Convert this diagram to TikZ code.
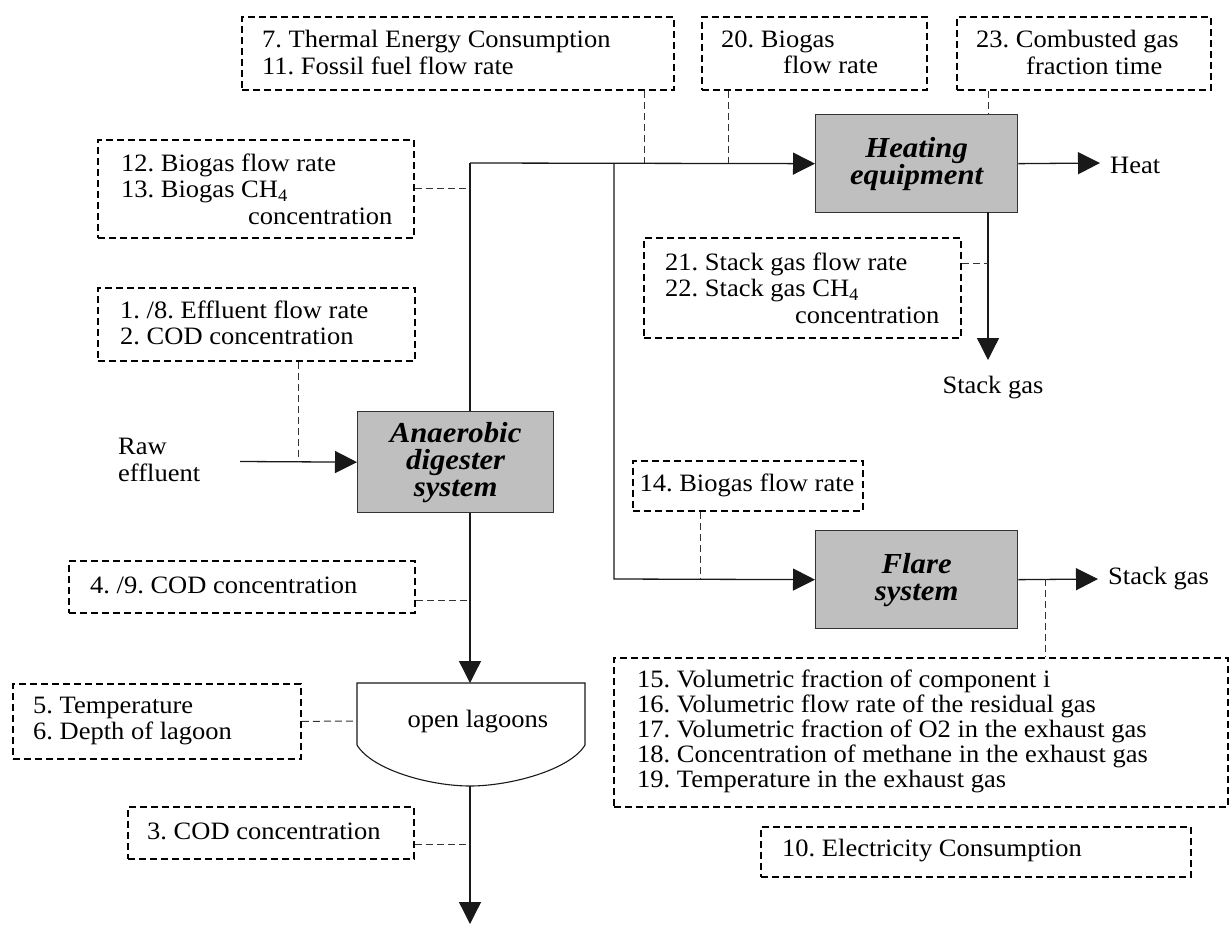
\documentclass[tikz,border=0pt]{standalone}
\usepackage{fontspec}
\setmainfont{Liberation Serif}[FakeStretch=1.06]
\usetikzlibrary{arrows.meta,calc}
\frenchspacing
\newcommand\lab{\fontsize{25}{26.5}\selectfont}
\newcommand\labt{\fontsize{25}{25}\selectfont}
\newcommand\bfit{\fontsize{29}{27}\selectfont\bfseries\itshape}
\tikzset{
  dbox/.style={draw=black, line width=1.8pt, dash pattern=on 7pt off 4pt, inner sep=0pt, anchor=north west},
  pbox/.style={draw=black!80, line width=1.3pt, fill=black!25, inner sep=0pt, anchor=north west, align=center, font=\bfit},
  lbl/.style={align=left, inner sep=0pt, anchor=west, font=\lab},
  flow/.style={draw=black!90, line width=1.3pt},
  arr/.style={flow, -{Triangle[length=22pt,width=22pt]}},
  meas/.style={draw=black!80, line width=1pt, dash pattern=on 7pt off 4pt},
}
\begin{document}
\begin{tikzpicture}[x=1pt,y=-1pt]
\useasboundingbox (0,0) rectangle (1229,926);
% measurement boxes
\node[dbox, minimum width=432pt, minimum height=73pt] (b7) at (241,16) {};
\node[lbl] (b7t) at (262,52.5) {\frenchspacing 7. Thermal Energy Consumption\\11. Fossil fuel flow rate};
\node[dbox, minimum width=225pt, minimum height=73pt] (b20) at (701,16) {};
\node[lbl] (b20t) at (721,52.5) {20. Biogas\\\hspace*{62pt}flow rate};
\node[dbox, minimum width=254pt, minimum height=73pt] (b23) at (956,16) {};
\node[lbl] (b23t) at (976,52.5) {23. Combusted gas\\\hspace*{50pt}fraction time};
\node[dbox, minimum width=316pt, minimum height=98pt] (b12) at (97,139) {};
\node[lbl] (b12t) at (121,189) {12. Biogas flow rate\\13. Biogas CH\textsubscript{4}\\\hspace*{127pt}concentration};
\node[dbox, minimum width=317pt, minimum height=100pt] (b21) at (643,237) {};
\node[lbl] (b21t) at (665,288) {21. Stack gas flow rate\\22. Stack gas CH\textsubscript{4}\\\hspace*{130pt}concentration};
\node[dbox, minimum width=317pt, minimum height=73pt] (b1) at (97,287) {};
\node[lbl] (b1t) at (120,323) {1. /8. Effluent flow rate\\2. COD concentration};
\node[dbox, minimum width=346pt, minimum height=52pt] (b4) at (68,560) {};
\node[lbl] (b4t) at (90,585) {4. /9. COD concentration};
\node[dbox, minimum width=288pt, minimum height=75pt] (b5) at (12,683) {};
\node[lbl] (b5t) at (33,721) {5. Temperature\\6. Depth of lagoon};
\node[dbox, minimum width=286pt, minimum height=52pt] (b3) at (127,806) {};
\node[lbl] (b3t) at (147,831) {3. COD concentration};
\node[dbox, minimum width=230pt, minimum height=50pt] (b14) at (632,460) {};
\node[lbl, anchor=center] (b14t) at (747,485) {14. Biogas flow rate};
\node[dbox, minimum width=614pt, minimum height=149pt] (b15) at (613,657) {};
\node[lbl, font=\labt] (b15t) at (637,731) {15. Volumetric fraction of component i\\16. Volumetric flow rate of the residual gas\\17. Volumetric fraction of O2 in the exhaust gas\\18. Concentration of methane in the exhaust gas\\19. Temperature in the exhaust gas};
\node[dbox, minimum width=430pt, minimum height=50pt] (b10) at (760,826) {};
\node[lbl] (b10t) at (782,851) {10. Electricity Consumption};
% process boxes
\node[pbox, minimum width=202pt, minimum height=98pt] (heat) at (815,114) {Heating\\equipment};
\node[pbox, minimum width=196pt, minimum height=101pt] (anaer) at (357,411) {Anaerobic\\digester\\system};
\node[pbox, minimum width=202pt, minimum height=98pt] (flare) at (815,530) {Flare\\system};
% lagoon
\draw[flow, line width=1.1pt] (357,683) -- (357,745) .. controls (372,770) and (430,786) .. (470,786) .. controls (510,786) and (570,770) .. (585,745) -- (585,683) -- cycle;
\node[lbl, anchor=center] (lagt) at (478,722) {open lagoons};
\coordinate (lagT) at (470,683);
\coordinate (lagL) at (357,721);
\coordinate (lagB) at (470,786);
\coordinate (outB) at (470,924);
% junctions
\coordinate (j1) at (470,163);
\coordinate (j2) at (614,163);
\coordinate (j3) at (614,579);
\coordinate (heatout) at (1100,163);
\coordinate (hs1) at (988,212);
\coordinate (hs2) at (988,360);
\coordinate (flout) at (1098,579);
\coordinate (rawS) at (240,461.5);
% texts
\node[lbl] (heattxt) at (1110,165) {Heat};
\node[lbl, anchor=center] (stk1) at (993,388) {Stack gas};
\node[lbl] (stk2) at (1108,579) {Stack gas};
\node[lbl] (raw) at (118,460) {Raw\\effluent};
% flows
\draw[flow] (j1 |- anaer.north) -- (j1);
\draw[arr] (j1) -- (heat.west);
\draw[arr] (j2) -- (j3) -- (flare.west);
\draw[arr] (heat.east) -- (heatout);
\draw[arr] (hs1) -- (hs2);
\draw[arr] (flare.east) -- (flout);
\draw[arr] (rawS) -- (anaer.west);
\draw[arr] (j1 |- anaer.south) -- (lagT);
\draw[arr] (lagB) -- (outB);
% measurement connectors
\coordinate (m7) at (644,163);
\coordinate (m20) at (728,163);
\coordinate (m23) at (988,163);
\coordinate (m1) at (298,461.5);
\coordinate (m4) at (470,600);
\coordinate (m3) at (470,844);
\coordinate (m21) at (988,263);
\coordinate (m14) at (700,579);
\coordinate (m15) at (1045,579);
\draw[meas] (m7 |- b7.south) -- (m7);
\draw[meas] (m20 |- b20.south) -- (m20);
\draw[meas] (m23 |- b23.south) -- (m23 |- heat.north);
\draw[meas] (b12.east) -- (b12.east -| j1);
\draw[meas] (m1 |- b1.south) -- (m1);
\draw[meas] (m4 -| b4.east) -- (m4);
\draw[meas] (b5.east) -- (lagL);
\draw[meas] (m3 -| b3.east) -- (m3);
\draw[meas] (m21 -| b21.east) -- (m21);
\draw[meas] (m14 |- b14.south) -- (m14);
\draw[meas] (m15) -- (m15 |- b15.north);
\end{tikzpicture}
\end{document}
